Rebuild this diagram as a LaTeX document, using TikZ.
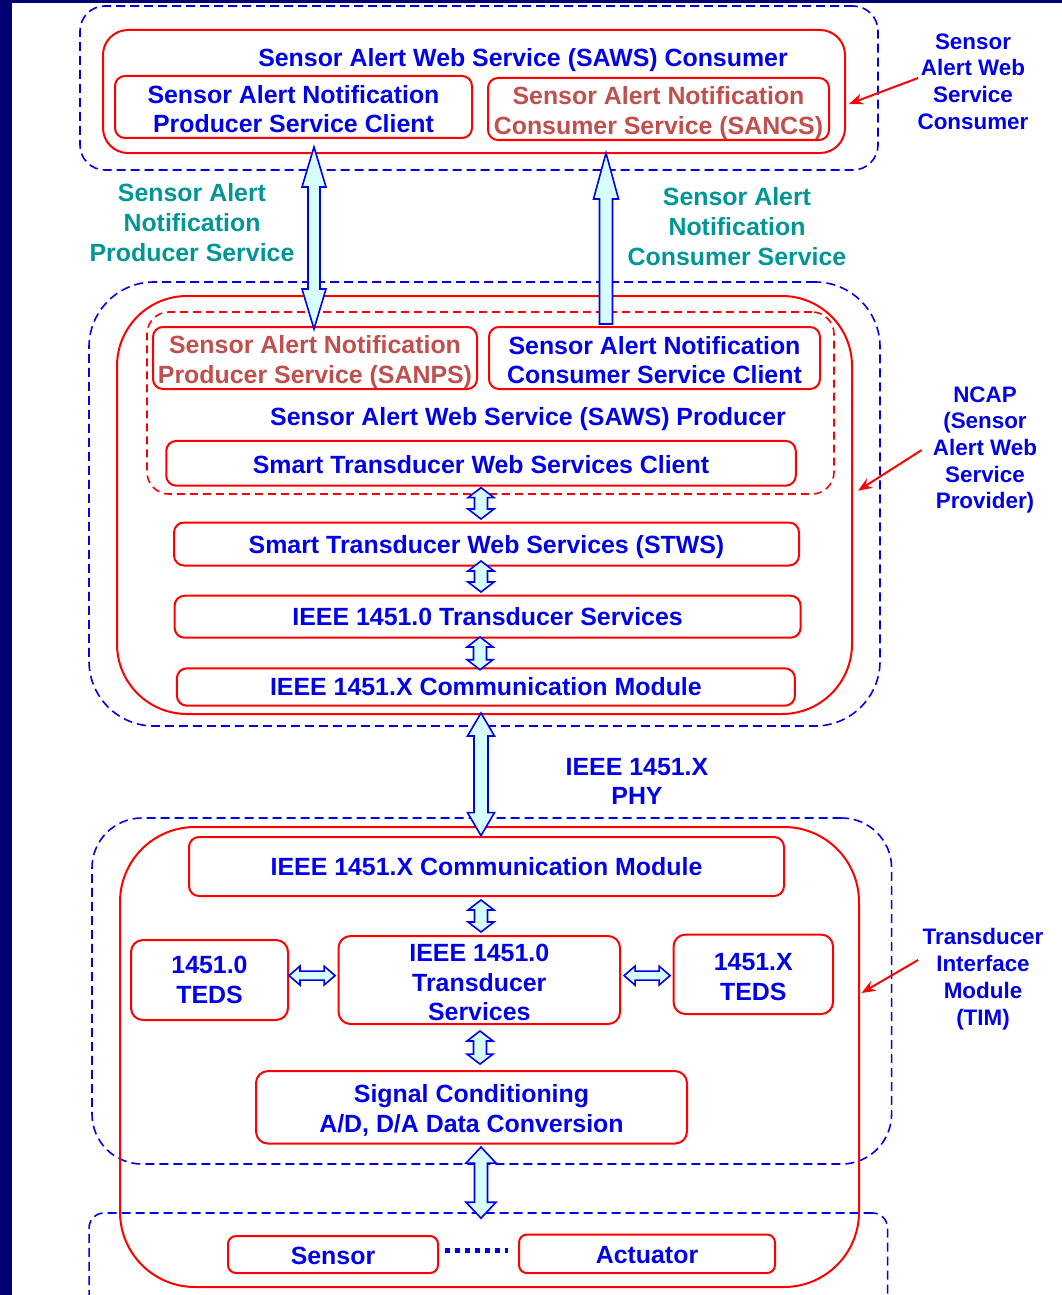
\documentclass[tikz,border=0pt]{standalone}
\usepackage{fontspec}
\setmainfont{Liberation Sans}
\usetikzlibrary{calc,arrows.meta}

\definecolor{navy}{RGB}{0,0,115}
\definecolor{tblue}{RGB}{0,0,235}
\definecolor{tbrown}{RGB}{192,80,77}
\definecolor{tteal}{RGB}{0,150,150}
\definecolor{lred}{RGB}{255,0,0}
\definecolor{afill}{RGB}{215,255,255}

\newcommand\mainfs{\fontsize{24.9}{29.8}\selectfont\bfseries}
\newcommand\sidefs{\fontsize{22.4}{26.7}\selectfont\bfseries}
% tall strut for a first line: lowers centred text by the given amount
\newcommand\tdn[1]{\rule{0pt}{\dimexpr 0.74em+#1*2\relax}}

\tikzset{
  headlen/.store in=\ahl, headhalf/.store in=\ahw, shafthalf/.store in=\asw,
  headlen=10pt, headhalf=13pt, shafthalf=6.5pt,
  tdown/.style={execute at begin node={\tdn{#1}}},
  groupbox/.style={draw=tblue, dash pattern=on 9pt off 5pt, line width=1.6pt, inner sep=0pt},
  cbox/.style={draw=lred, line width=2pt, inner sep=0pt},
  lbox/.style={draw=lred, line width=2pt, rounded corners=10pt, inner sep=0pt,
    font=\mainfs, text=tblue, align=center},
  title/.style={font=\mainfs, text=tblue, anchor=base},
  teallabel/.style={font=\mainfs, text=tteal, align=center},
  sidelabel/.style={font=\sidefs, text=tblue, align=center},
  ptr/.style={draw=lred, line width=2pt, -{Stealth[length=14pt, width=11pt]}},
  dotsline/.style={draw=tblue, line width=5pt, dash pattern=on 5pt off 5pt},
  % block arrow with a head at both ends
  twohead/.style={draw=tblue, fill=afill, line width=1.6pt,
    to path={
      -- ($(\tikztostart)!\ahl!(\tikztotarget)!\ahw!90:(\tikztotarget)$)
      -- ($(\tikztostart)!\ahl!(\tikztotarget)!\asw!90:(\tikztotarget)$)
      -- ($(\tikztotarget)!\ahl!(\tikztostart)!\asw!-90:(\tikztostart)$)
      -- ($(\tikztotarget)!\ahl!(\tikztostart)!\ahw!-90:(\tikztostart)$)
      -- (\tikztotarget)
      -- ($(\tikztotarget)!\ahl!(\tikztostart)!\ahw!90:(\tikztostart)$)
      -- ($(\tikztotarget)!\ahl!(\tikztostart)!\asw!90:(\tikztostart)$)
      -- ($(\tikztostart)!\ahl!(\tikztotarget)!\asw!-90:(\tikztotarget)$)
      -- ($(\tikztostart)!\ahl!(\tikztotarget)!\ahw!-90:(\tikztotarget)$)
      -- cycle}},
  % block arrow with a flat tail and one head
  onehead/.style={draw=tblue, fill=afill, line width=1.6pt,
    to path={
      -- ($(\tikztostart)!\asw!90:(\tikztotarget)$)
      -- ($(\tikztotarget)!\ahl!(\tikztostart)!\asw!-90:(\tikztostart)$)
      -- ($(\tikztotarget)!\ahl!(\tikztostart)!\ahw!-90:(\tikztostart)$)
      -- (\tikztotarget)
      -- ($(\tikztotarget)!\ahl!(\tikztostart)!\ahw!90:(\tikztostart)$)
      -- ($(\tikztotarget)!\ahl!(\tikztostart)!\asw!90:(\tikztostart)$)
      -- ($(\tikztostart)!\asw!-90:(\tikztotarget)$)
      -- cycle}},
}

\begin{document}
\begin{tikzpicture}[x=1pt,y=-1pt]
\useasboundingbox (0,0) rectangle (1062,1295);
\fill[white] (0,0) rectangle (1062,1295);
\fill[navy] (0,0) rectangle (12,1295);
\fill[navy] (0,0) rectangle (1062,3);

% ---------- SAWS consumer ----------
\node[groupbox, rounded corners=25pt, minimum width=798pt, minimum height=164pt] (consgrp) at (479,88) {};
\node[cbox, rounded corners=25pt, minimum width=742pt, minimum height=123pt] (sawsc) at (474,91.5) {};
\node[title] (sawsct) at (523,67) {Sensor Alert Web Service (SAWS) Consumer};
\node[lbox, minimum width=357pt, minimum height=62pt] (pscl) at (293.5,107) {\tdn{2pt}Sensor Alert Notification\\Producer Service Client};
\node[lbox, text=tbrown, minimum width=341pt, minimum height=62pt] (sancs) at (658.5,109) {\tdn{4pt}Sensor Alert Notification\\Consumer Service (SANCS)};
\node[sidelabel] (conslbl) at (973,81.5) {Sensor\\Alert Web\\Service\\Consumer};

\node[teallabel] (sanpsl) at (192,222.5) {Sensor Alert\\Notification\\Producer Service};
\node[teallabel] (sancsl) at (737,226.5) {Sensor Alert\\Notification\\Consumer Service};

% ---------- NCAP ----------
\node[groupbox, rounded corners=65pt, minimum width=791pt, minimum height=444pt] (ncapgrp) at (484.5,504) {};
\node[cbox, rounded corners=70pt, minimum width=735pt, minimum height=418pt] (ncap) at (484.5,505) {};
\node[draw=lred, dash pattern=on 8pt off 5pt, line width=1.6pt, rounded corners=22pt, inner sep=0pt,
      minimum width=687pt, minimum height=182pt] (sawsp) at (490.5,403) {};
\node[lbox, text=tbrown, minimum width=324pt, minimum height=62pt] (sanps) at (315,358) {\tdn{3.5pt}Sensor Alert Notification\\Producer Service (SANPS)};
\node[lbox, minimum width=331pt, minimum height=62pt] (nccl) at (654.5,358) {\tdn{2pt}Sensor Alert Notification\\Consumer Service Client};
\node[title] (sawspt) at (528,425.5) {Sensor Alert Web Service (SAWS) Producer};
\node[lbox, tdown=1.5pt, minimum width=629.5pt, minimum height=44.7pt] (stwsc) at (481,463.3) {Smart Transducer Web Services Client};
\node[lbox, tdown=3pt, minimum width=625pt, minimum height=43pt] (stws) at (486.5,544) {Smart Transducer Web Services (STWS)};
\node[lbox, minimum width=626pt, minimum height=42pt] (tsvc) at (487.6,616.7) {IEEE 1451.0 Transducer Services};
\node[lbox, minimum width=618pt, minimum height=37.4pt] (cmn) at (485.9,687) {IEEE 1451.X Communication Module};
\node[sidelabel] (ncaplbl) at (985,447) {\tdn{2.5pt}NCAP\\(Sensor\\Alert Web\\Service\\Provider)};

\node[font=\mainfs, text=tblue, align=center] (phy) at (637,781.5) {IEEE 1451.X\\PHY};

% ---------- TIM ----------
\node[groupbox, rounded corners=50pt, minimum width=799.6pt, minimum height=346pt] (timgrp) at (491.8,991) {};
\node[cbox, rounded corners=75pt, minimum width=739pt, minimum height=460pt] (tim) at (489.5,1057) {};
\node[lbox, minimum width=595pt, minimum height=59pt] (cmt) at (486.5,866.5) {IEEE 1451.X Communication Module};
\node[lbox, rounded corners=12pt, minimum width=157pt, minimum height=80pt] (teds0) at (209.5,980) {1451.0\\TEDS};
\node[lbox, rounded corners=12pt, minimum width=281.5pt, minimum height=88pt] (tsvt) at (479.3,980) {\tdn{2pt}IEEE 1451.0\\Transducer\\Services};
\node[lbox, rounded corners=12pt, minimum width=159.5pt, minimum height=79.5pt] (tedsx) at (753.3,974.3) {\tdn{2pt}1451.X\\TEDS};
\node[lbox, rounded corners=12pt, minimum width=431pt, minimum height=72.5pt] (sig) at (471.5,1107.3) {\tdn{3pt}Signal Conditioning\\A/D, D/A Data Conversion};
\node[groupbox, rounded corners=15pt, minimum width=798.5pt, minimum height=120pt] (sagrp) at (488.3,1273) {};
\node[lbox, tdown=1pt, rounded corners=8pt, minimum width=210pt, minimum height=37pt] (sensor) at (333,1254.5) {Sensor};
\node[lbox, tdown=1pt, rounded corners=8pt, minimum width=256pt, minimum height=38.5pt] (actuator) at (647,1253.8) {Actuator};
\node[sidelabel] (timlbl) at (983,976.5) {\tdn{2.5pt}Transducer\\Interface\\Module\\(TIM)};

% ---------- arrow end points ----------
\coordinate (a1t) at ($(pscl.south)+(20.5,8)$);
\coordinate (a1b) at ($(sanps.north)+(-1,3)$);
\coordinate (a2b) at ($(nccl.north)+(-48.5,-2)$);
\coordinate (a2t) at ($(sancs.south)+(-52.5,12)$);
\coordinate (s1t) at ($(stwsc.south)+(0,1)$);
\coordinate (s1b) at ($(stws.north)+(-5.5,-2.5)$);
\coordinate (s2t) at ($(stws.south)+(-5.5,-5.5)$);
\coordinate (s2b) at ($(tsvc.north)+(-6.6,-2.7)$);
\coordinate (s3t) at ($(tsvc.south)+(-7.6,-1.7)$);
\coordinate (s3b) at ($(cmn.north)+(-5.9,2.4)$);
\coordinate (phyt) at ($(cmn.south)+(-4.9,6.3)$);
\coordinate (phyb) at ($(cmt.north)+(-5.5,-0.4)$);
\coordinate (s4t) at ($(cmt.south)+(-5.5,3)$);
\coordinate (s4b) at ($(tsvt.north)+(1.7,-3)$);
\coordinate (h1l) at ($(teds0.east)+(0,-4.4)$);
\coordinate (h1r) at ($(tsvt.west)+(-2.5,-4.4)$);
\coordinate (h2l) at ($(tsvt.east)+(3,-4.4)$);
\coordinate (h2r) at ($(tedsx.west)+(-2.5,1.3)$);
\coordinate (s5t) at ($(tsvt.south)+(0.7,6)$);
\coordinate (s5b) at ($(sig.north)+(8.5,-6)$);
\coordinate (sat) at ($(sig.south)+(9.5,2.5)$);
\coordinate (sab) at ($(sagrp.north)+(-7.3,6)$);

% ---------- block arrows ----------
\draw[twohead, headlen=40pt, headhalf=12pt, shafthalf=6pt] (a1t) to (a1b);
\draw[onehead, headlen=46pt, headhalf=12.5pt, shafthalf=6.5pt] (a2b) to (a2t);
\draw[twohead] (s1t) to (s1b);
\draw[twohead] (s2t) to (s2b);
\draw[twohead] (s3t) to (s3b);
\draw[twohead, headlen=23pt, headhalf=13.5pt, shafthalf=7pt] (phyt) to (phyb);
\draw[twohead] (s4t) to (s4b);
\draw[twohead, headlen=11pt, headhalf=9.5pt, shafthalf=4.5pt] (h1l) to (h1r);
\draw[twohead, headlen=11pt, headhalf=9.5pt, shafthalf=4.5pt] (h2l) to (h2r);
\draw[twohead] (s5t) to (s5b);
\draw[twohead, headlen=16pt, headhalf=15pt, shafthalf=6.5pt] (sat) to (sab);

% sensor ... actuator
\draw[dotsline] ($(sensor.east)+(6,-4.5)$) -- ($(actuator.west)+(-10,-3.8)$);

% ---------- side pointers ----------
\draw[ptr] ($(conslbl.west)+(4,-3.5)$) -- ($(sawsc.east)+(3,12.5)$);
\draw[ptr] ($(ncaplbl.west)+(-7.7,3)$) -- ($(ncap.east)+(5,-14.3)$);
\draw[ptr] ($(timlbl.west)+(-1,-16.5)$) -- ($(tim.east)+(1.5,-64)$);
\end{tikzpicture}
\end{document}
